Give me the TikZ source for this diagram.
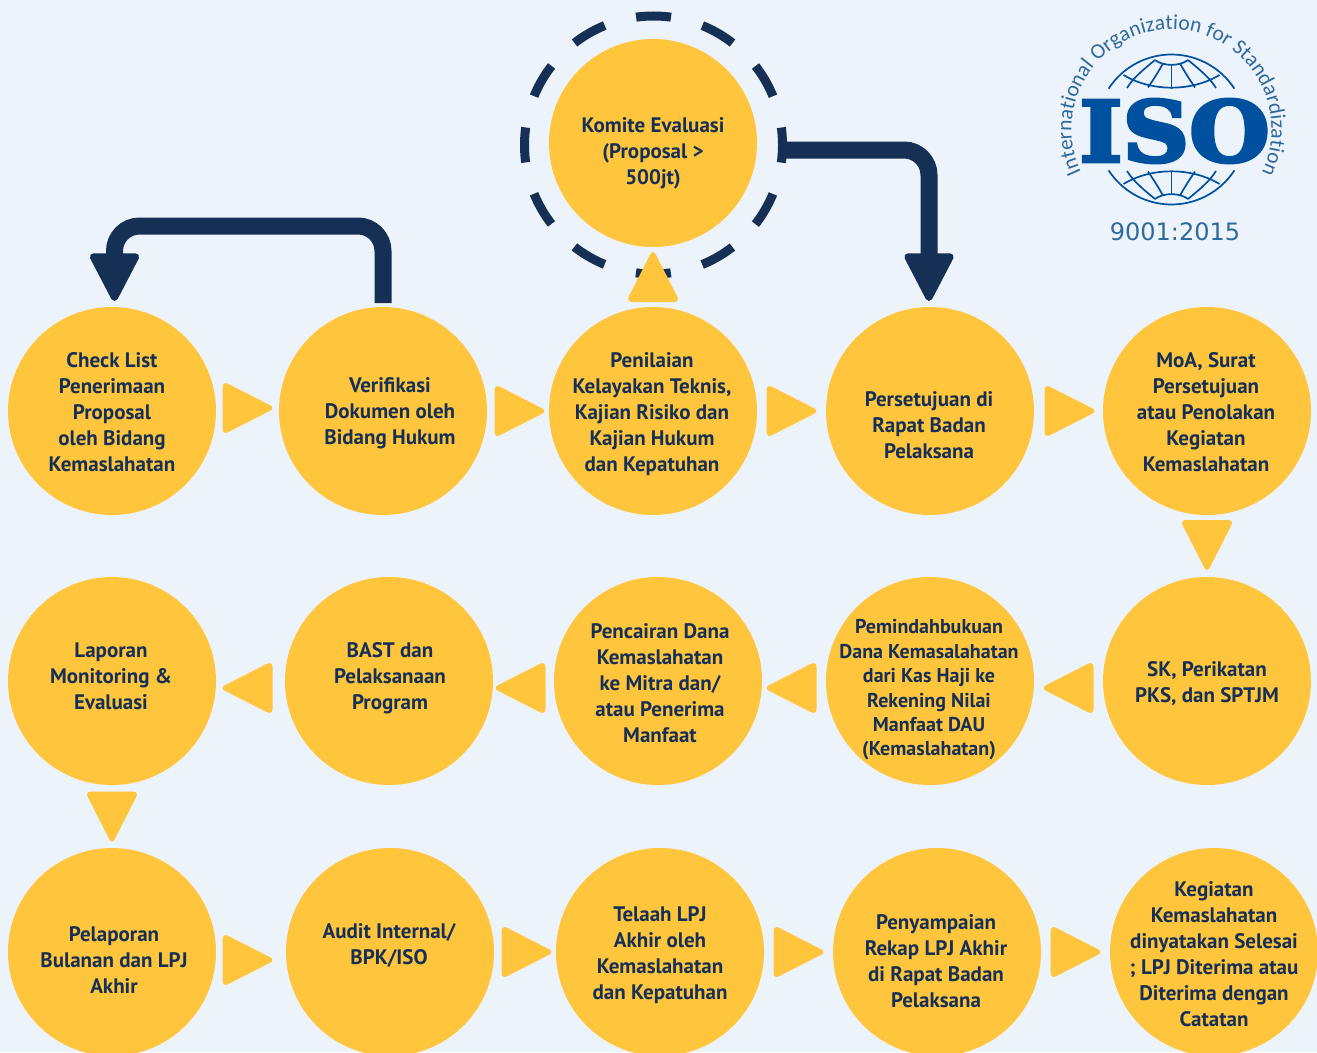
\documentclass[tikz,border=0pt]{standalone}
\usepackage{fontspec}
\setmainfont{PT Sans}
\newfontfamily\isofont[FakeBold=4]{DejaVu Serif Bold}
\newfontfamily\logofont{Carlito}
\newfontfamily\numberfont{DejaVu Sans}
\usepackage{tikz}
\usetikzlibrary{arrows.meta,positioning,calc,decorations.text}

\definecolor{pagebg}{HTML}{EDF3FA}
\definecolor{stepyellow}{HTML}{FFC53D}
\definecolor{navyblue}{HTML}{152F55}
\definecolor{isoblue}{HTML}{0050A0}
\definecolor{isotext}{HTML}{2F6A9E}

\begin{document}
\begin{tikzpicture}[
  x=1pt, y=-1pt,
  stepcircle/.style={circle, fill=stepyellow, minimum size=208pt, inner sep=0pt, outer sep=0pt},
  steptext/.style={align=center, text=navyblue, font=\fontsize{21}{26}\selectfont\bfseries, inner sep=0pt},
  steparrow/.pic={\fill[stepyellow, rounded corners=6pt] (-25pt,-27pt) -- (28pt,0pt) -- (-25pt,27pt) -- cycle;},
  flowarrow/.style={draw=navyblue, line width=17pt, rounded corners=25pt,
    -{Triangle[length=52pt, width=52pt, line width=7pt, round, fill=navyblue]}},
  dashring/.style={circle, draw=navyblue, line width=9pt, minimum size=258pt, outer sep=0pt,
    dash pattern=on 35pt off 32.54pt, dash phase=17.5pt},
  globeline/.style={draw=isoblue, line width=1.7pt},
]
\useasboundingbox[fill=pagebg] (0,0) rectangle (1317,1052);

% Nodes
\node[dashring] (komitering) at (653.5,145) {};
\node[stepcircle] (komite) at (653,143) {};
\node[stepcircle] (checklist) at (112,411) {};
\node[stepcircle] (verifikasi) at (383,411) {};
\node[stepcircle] (penilaian) at (653,411) {};
\node[stepcircle] (persetujuan) at (930,411) {};
\node[stepcircle] (moa) at (1207,411) {};
\node[stepcircle] (laporan) at (112,681) {};
\node[stepcircle] (bast) at (389,681) {};
\node[stepcircle] (pencairan) at (658,681) {};
\node[stepcircle] (pemindahan) at (930,681) {};
\node[stepcircle] (sk) at (1207,681) {};
\node[stepcircle] (pelaporan) at (112,952) {};
\node[stepcircle] (audit) at (390,952) {};
\node[stepcircle] (telaah) at (660,952) {};
\node[stepcircle] (penyampaian) at (937,952) {};
\node[stepcircle] (selesai) at (1214,952) {};

% Text labels
\node[steptext] (komitetext) at (653,153.5) {Komite Evaluasi\\(Proposal >\\500jt)};
\node[steptext] (checklisttext) at (112,412) {Check List\\Penerimaan\\Proposal\\oleh Bidang\\Kemaslahatan};
\node[steptext] (verifikasitext) at (390,413.5) {Verifikasi\\Dokumen oleh\\Bidang Hukum};
\node[steptext] (penilaiantext) at (652,414) {Penilaian\\Kelayakan Teknis,\\Kajian Risiko dan\\Kajian Hukum\\dan Kepatuhan};
\node[steptext] (persetujuantext) at (929,425.5) {Persetujuan di\\Rapat Badan\\Pelaksana};
\node[steptext] (moatext) at (1206,412) {MoA, Surat\\Persetujuan\\atau Penolakan\\Kegiatan\\Kemaslahatan};
\node[steptext] (laporantext) at (111,676) {Laporan\\Monitoring \&\\Evaluasi};
\node[steptext] (basttext) at (390,678) {BAST dan\\Pelaksanaan\\Program};
\node[steptext] (pencairantext) at (660,683) {Pencairan Dana\\Kemaslahatan\\ke Mitra dan/\\atau Penerima\\Manfaat};
\node[steptext, font=\fontsize{20}{24.4}\selectfont\bfseries] (pemindahantext) at (929,690) {Pemindahbukuan\\Dana Kemasalahatan\\dari Kas Haji ke\\Rekening Nilai\\Manfaat DAU\\(Kemaslahatan)};
\node[steptext] (sktext) at (1207,684) {SK, Perikatan\\PKS, dan SPTJM};
\node[steptext] (pelaporantext) at (114,960) {Pelaporan\\Bulanan dan LPJ\\Akhir};
\node[steptext] (audittext) at (389,945) {Audit Internal/\\BPK/ISO};
\node[steptext] (telaahtext) at (660,955) {Telaah LPJ\\Akhir oleh\\Kemaslahatan\\dan Kepatuhan};
\node[steptext] (penyampaiantext) at (936,961) {Penyampaian\\Rekap LPJ Akhir\\di Rapat Badan\\Pelaksana};
\node[steptext] (selesaitext) at (1214,954) {Kegiatan\\Kemaslahatan\\dinyatakan Selesai\\; LPJ Diterima atau\\Diterima dengan\\Catatan};

% Lines
\draw[flowarrow] ([yshift=4pt]verifikasi.north) |- (250,226) -| ([xshift=2.5pt,yshift=6pt]checklist.north);
\draw[flowarrow] ([yshift=-5pt]komitering.east) -| ([xshift=-1pt,yshift=6pt]persetujuan.north);

% Small arrows
\path (penilaian) -- pic[pos=.5, sloped, allow upside down]{steparrow} (komite);
\path (checklist) -- pic[pos=.5, sloped, allow upside down, yshift=3pt]{steparrow} (verifikasi);
\path (verifikasi) -- pic[pos=.5, sloped, allow upside down, xshift=1.5pt]{steparrow} (penilaian);
\path (penilaian) -- pic[pos=.5, sloped, allow upside down]{steparrow} (persetujuan);
\path (persetujuan) -- pic[pos=.5, sloped, allow upside down, xshift=1pt]{steparrow} (moa);
\path (moa) -- pic[pos=.5, sloped, allow upside down, xshift=-1pt]{steparrow} (sk);
\path (sk) -- pic[pos=.5, sloped, allow upside down, yshift=7pt]{steparrow} (pemindahan);
\path (pemindahan) -- pic[pos=.5, sloped, allow upside down, yshift=7pt, xshift=2.5pt]{steparrow} (pencairan);
\path (pencairan) -- pic[pos=.5, sloped, allow upside down, yshift=7pt, xshift=3pt]{steparrow} (bast);
\path (bast) -- pic[pos=.5, sloped, allow upside down, yshift=7pt, xshift=3pt]{steparrow} (laporan);
\path (laporan) -- pic[pos=.5, sloped, allow upside down]{steparrow} (pelaporan);
\path (pelaporan) -- pic[pos=.5, sloped, allow upside down, yshift=-8pt, xshift=-3.5pt]{steparrow} (audit);
\path (audit) -- pic[pos=.5, sloped, allow upside down, xshift=1.5pt]{steparrow} (telaah);
\path (telaah) -- pic[pos=.5, sloped, allow upside down]{steparrow} (penyampaian);
\path (penyampaian) -- pic[pos=.5, sloped, allow upside down]{steparrow} (selesai);

% ISO logo
\begin{scope}[shift={(1171.5,129.5)}, x=1pt, y=1pt]
  \foreach \flip in {1,-1} {
    \begin{scope}[yscale=\flip]
      \draw[globeline] (33:75) arc[start angle=33, end angle=147, radius=75];
      \draw[globeline] (-16.5,69.5) .. controls (-8,63) and (8,63) .. (16.5,69.5);
      \draw[globeline] (-48,54.5) .. controls (-20,37.6) and (20,37.6) .. (48,54.5);
      \draw[globeline] (0,65) -- (0,41);
      \draw[globeline] (-16.5,69.5) .. controls (-28,60) and (-38,52) .. (-44.5,41.5);
      \draw[globeline] (16.5,69.5) .. controls (28,60) and (38,52) .. (44.5,41.5);
      \draw[globeline] (-8.5,66) .. controls (-13,58) and (-18,50) .. (-23.5,42);
      \draw[globeline] (8.5,66) .. controls (13,58) and (18,50) .. (23.5,42);
    \end{scope}
  }
  \node[text=isoblue, font=\isofont\fontsize{84}{84}\selectfont, inner sep=0pt, xscale=1.1] (isotext) at (3,-1.5) {ISO};
  \path[decorate, decoration={text along path, text align=center,
      text={|\logofont\fontsize{21.5}{22}\selectfont\color{isotext}|International Organization for Standardization}}]
    (215:100) arc[start angle=215, end angle=-35, radius=100];
\end{scope}
\node[text=isotext, font=\numberfont\fontsize{24}{24}\selectfont, inner sep=0pt] (isonumber) at (1175,232) {9001:2015};
\end{tikzpicture}
\end{document}
